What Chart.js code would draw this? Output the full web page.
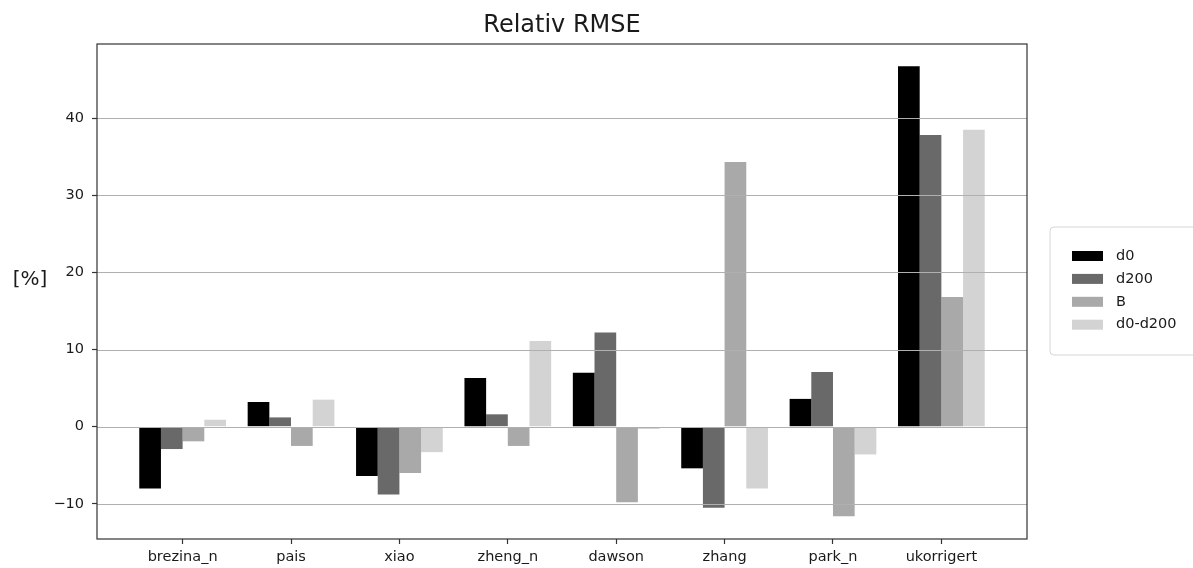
<!DOCTYPE html>
<html>
<head>
<meta charset="utf-8">
<script src="https://cdn.jsdelivr.net/npm/chart.js@4.4.0/dist/chart.umd.min.js"></script>
<style>
  html, body { margin: 0; padding: 0; background: #fff; }
  #wrap { width: 1193px; height: 568px; }
</style>
</head>
<body>
<div id="wrap"><canvas id="rmseChart"></canvas></div>
<script>
// relative RMSE per model, in percent
var categories = ['brezina_n', 'pais', 'xiao', 'zheng_n', 'dawson', 'zhang', 'park_n', 'ukorrigert'];
var d0 = [-8.0, 3.2, -6.4, 6.3, 7.0, -5.4, 3.6, 46.7];
var d200 = [-2.9, 1.2, -8.8, 1.6, 12.2, -10.5, 7.1, 37.8];
var bValues = [-1.9, -2.5, -6.0, -2.5, -9.8, 34.3, -11.6, 16.8];
var d0MinusD200 = [0.9, 3.5, -3.3, 11.1, -0.3, -8.0, -3.6, 38.5];
var seriesNames = ['d0', 'd200', 'B', 'd0-d200'];
var seriesColors = ['#000000', '#696969', '#a9a9a9', '#d3d3d3'];
var yTicks = [-10, 0, 10, 20, 30, 40];

var FONT = 'DejaVu Sans';
var TEXT = '#1a1a1a';

function toPoints(values) {
  return values.map(function (v, i) { return { x: i, y: v }; });
}

var series = [d0, d200, bValues, d0MinusD200];
var datasets = series.map(function (values, k) {
  return {
    label: seriesNames[k],
    data: toPoints(values),
    backgroundColor: seriesColors[k],
    borderWidth: 0,
    categoryPercentage: 0.8,
    barPercentage: 1.0
  };
});

// frame, grid over the bars, title, y label and legend
var decorations = {
  id: 'decorations',
  afterDatasetsDraw: function (chart) {
    var ctx = chart.ctx, area = chart.chartArea, y = chart.scales.y;
    ctx.save();
    ctx.strokeStyle = '#b0b0b0';
    ctx.lineWidth = 1.2;
    yTicks.forEach(function (v) {
      var py = Math.round(y.getPixelForValue(v)) + 0.5;
      ctx.beginPath();
      ctx.moveTo(area.left, py);
      ctx.lineTo(area.right, py);
      ctx.stroke();
    });
    ctx.restore();
  },
  afterDraw: function (chart) {
    var ctx = chart.ctx, area = chart.chartArea;
    ctx.save();

    ctx.strokeStyle = '#333';
    ctx.lineWidth = 1.2;
    ctx.strokeRect(area.left, area.top, area.right - area.left, area.bottom - area.top);

    ctx.fillStyle = TEXT;
    ctx.textAlign = 'center';
    ctx.textBaseline = 'middle';
    ctx.font = '24px "' + FONT + '"';
    ctx.fillText('Relativ RMSE', (area.left + area.right) / 2, 26);

    ctx.font = '20px "' + FONT + '"';
    ctx.fillText('[%]', 30, 280);

    // legend box
    var bx = 1050, by = 227, bw = 160, bh = 128, r = 4;
    ctx.beginPath();
    ctx.moveTo(bx + r, by);
    ctx.lineTo(bx + bw - r, by);
    ctx.arcTo(bx + bw, by, bx + bw, by + r, r);
    ctx.lineTo(bx + bw, by + bh - r);
    ctx.arcTo(bx + bw, by + bh, bx + bw - r, by + bh, r);
    ctx.lineTo(bx + r, by + bh);
    ctx.arcTo(bx, by + bh, bx, by + bh - r, r);
    ctx.lineTo(bx, by + r);
    ctx.arcTo(bx, by, bx + r, by, r);
    ctx.closePath();
    ctx.fillStyle = '#ffffff';
    ctx.fill();
    ctx.strokeStyle = '#d6d6d6';
    ctx.lineWidth = 1;
    ctx.stroke();

    ctx.font = '14.5px "' + FONT + '"';
    ctx.textAlign = 'left';
    chart.data.datasets.forEach(function (ds, k) {
      var cy = 256 + k * 22.9;
      ctx.fillStyle = ds.backgroundColor;
      ctx.fillRect(1072, cy - 5, 31, 10);
      ctx.fillStyle = TEXT;
      ctx.fillText(ds.label, 1116, cy);
    });

    ctx.restore();
  }
};

var ctx = document.getElementById('rmseChart').getContext('2d');
var rmseChart = new Chart(ctx, {
  type: 'bar',
  data: { datasets: datasets },
  options: {
    responsive: true,
    maintainAspectRatio: false,
    animation: false,
    layout: { padding: { left: 37, right: 166, top: 44, bottom: 0 } },
    plugins: {
      legend: { display: false },
      title: { display: false },
      tooltip: { enabled: false }
    },
    scales: {
      x: {
        type: 'linear',
        min: -0.79,
        max: 7.79,
        offset: false,
        afterBuildTicks: function (axis) {
          axis.ticks = categories.map(function (c, i) { return { value: i }; });
        },
        afterFit: function (axis) { axis.height = 29; },
        ticks: {
          callback: function (v) { return categories[v]; },
          autoSkip: false,
          maxRotation: 0,
          color: TEXT,
          font: { family: FONT, size: 14.5 },
          padding: 5
        },
        grid: { offset: false, drawOnChartArea: false, tickLength: 5, tickColor: '#333', tickWidth: 1.2 },
        border: { display: false }
      },
      y: {
        min: -14.56,
        max: 49.6,
        afterBuildTicks: function (axis) {
          axis.ticks = yTicks.map(function (v) { return { value: v }; });
        },
        afterFit: function (axis) { axis.width = 60; },
        ticks: {
          callback: function (v) { return String(v).replace('-', '\u2212'); },
          color: TEXT,
          font: { family: FONT, size: 14.5 },
          padding: 8
        },
        grid: { drawOnChartArea: false, tickLength: 5, tickColor: '#333', tickWidth: 1.2 },
        border: { display: false }
      }
    }
  },
  plugins: [decorations]
});
</script>
</body>
</html>
